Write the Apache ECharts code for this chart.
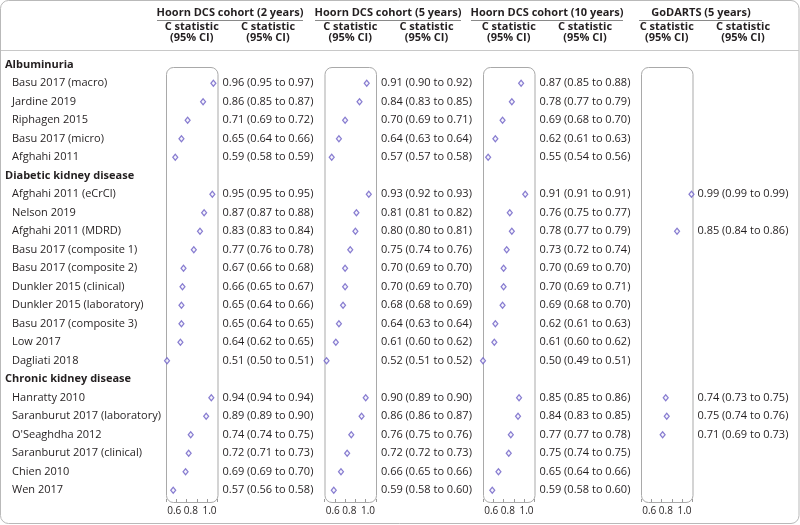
<!DOCTYPE html>
<html><head><meta charset="utf-8">
<script src="https://cdn.jsdelivr.net/npm/echarts@6/dist/echarts.min.js"></script>
<style>html,body{margin:0;padding:0;background:#fff}#c{width:800px;height:525px}</style>
</head><body><div id="c"></div>
<script>
// ---------- data ----------
const rows = ['Albuminuria','Basu 2017 (macro)','Jardine 2019','Riphagen 2015','Basu 2017 (micro)','Afghahi 2011',
  'Diabetic kidney disease','Afghahi 2011 (eCrCl)','Nelson 2019','Afghahi 2011 (MDRD)','Basu 2017 (composite 1)','Basu 2017 (composite 2)',
  'Dunkler 2015 (clinical)','Dunkler 2015 (laboratory)','Basu 2017 (composite 3)','Low 2017','Dagliati 2018',
  'Chronic kidney disease','Hanratty 2010','Saranburut 2017 (laboratory)',"O'Seaghdha 2012",'Saranburut 2017 (clinical)','Chien 2010','Wen 2017'];
const groupHeaders = ['Albuminuria','Diabetic kidney disease','Chronic kidney disease'];
const cohorts = ['Hoorn DCS cohort (2 years)','Hoorn DCS cohort (5 years)','Hoorn DCS cohort (10 years)','GoDARTS (5 years)'];
const colHeader = ['C statistic','(95% CI)'];
const xTickLabels = ['0.6','0.8','1.0'];

const est2 = [null,0.96,0.86,0.71,0.65,0.59, null,0.95,0.87,0.83,0.77,0.67,0.66,0.65,0.65,0.64,0.51, null,0.94,0.89,0.74,0.72,0.69,0.57];
const lo2  = [null,0.95,0.85,0.69,0.64,0.58, null,0.95,0.87,0.83,0.76,0.66,0.65,0.64,0.64,0.62,0.50, null,0.94,0.89,0.74,0.71,0.69,0.56];
const hi2  = [null,0.97,0.87,0.72,0.66,0.59, null,0.95,0.88,0.84,0.78,0.68,0.67,0.66,0.65,0.65,0.51, null,0.94,0.90,0.75,0.73,0.70,0.58];

const est5 = [null,0.91,0.84,0.70,0.64,0.57, null,0.93,0.81,0.80,0.75,0.70,0.70,0.68,0.64,0.61,0.52, null,0.90,0.86,0.76,0.72,0.66,0.59];
const lo5  = [null,0.90,0.83,0.69,0.63,0.57, null,0.92,0.81,0.80,0.74,0.69,0.69,0.68,0.63,0.60,0.51, null,0.89,0.86,0.75,0.72,0.65,0.58];
const hi5  = [null,0.92,0.85,0.71,0.64,0.58, null,0.93,0.82,0.81,0.76,0.70,0.70,0.69,0.64,0.62,0.52, null,0.90,0.87,0.76,0.73,0.66,0.60];

const est10 = [null,0.87,0.78,0.69,0.62,0.55, null,0.91,0.76,0.78,0.73,0.70,0.70,0.69,0.62,0.61,0.50, null,0.85,0.84,0.77,0.75,0.65,0.59];
const lo10  = [null,0.85,0.77,0.68,0.61,0.54, null,0.91,0.75,0.77,0.72,0.69,0.69,0.68,0.61,0.60,0.49, null,0.85,0.83,0.77,0.74,0.64,0.58];
const hi10  = [null,0.88,0.79,0.70,0.63,0.56, null,0.91,0.77,0.79,0.74,0.70,0.71,0.70,0.63,0.62,0.51, null,0.86,0.85,0.78,0.75,0.66,0.60];

const estG = [null,null,null,null,null,null, null,0.99,null,0.85,null,null,null,null,null,null,null, null,0.74,0.75,0.71,null,null,null];
const loG  = [null,null,null,null,null,null, null,0.99,null,0.84,null,null,null,null,null,null,null, null,0.73,0.74,0.69,null,null,null];
const hiG  = [null,null,null,null,null,null, null,0.99,null,0.86,null,null,null,null,null,null,null, null,0.75,0.76,0.73,null,null,null];

// ---------- layout / style ----------
const FONT = '"Open Sans", "Noto Sans", sans-serif';
const TXT = '#231f20';
const MARK = '#6a5cc4';
const panelLeft = [166, 324.5, 483, 641];
const panelW = 51.5;
const gridTop = 55.5, gridH = 444;
const boxTop = 67, boxBottom = 502;
const titleCx = [230, 388, 547, 701];
const underline = [[157,303],[315,461],[471,623],[639,762]];
const panels = [[est2,lo2,hi2],[est5,lo5,hi5],[est10,lo10,hi10],[estG,loG,hiG]];

const f2 = v => v.toFixed(2);
const ciText = (e,l,h) => rows.map((_,i) => e[i]==null ? '' : `${f2(e[i])} (${f2(l[i])} to ${f2(h[i])})`);

const grid = [], xAxis = [], yAxis = [], series = [], graphic = [];

graphic.push({type:'rect', silent:true, z:-10, shape:{x:0.5,y:0.5,width:798.5,height:523,r:8}, style:{fill:'#fff',stroke:'#b9b9b9',lineWidth:1}});
graphic.push({type:'line', silent:true, shape:{x1:1,y1:50.5,x2:799,y2:50.5}, style:{stroke:'#c8c8c8',lineWidth:1}});

// label nudges so the three tick labels sit tightly under each panel, as in the reference
const tickRich = {
  a:{padding:[0,4,0,0], fontFamily:FONT, fontSize:10, color:TXT},
  m:{padding:[0,12,0,0], fontFamily:FONT, fontSize:10, color:TXT},
  n:{padding:[0,16,0,0], fontFamily:FONT, fontSize:10, color:TXT}
};

panels.forEach((p, k) => {
  const L = panelLeft[k];
  grid.push({left:L, top:gridTop, width:panelW, height:gridH, containLabel:false});
  xAxis.push({
    type:'value', gridIndex:k, min:0.5, max:1.0, interval:0.1, offset:boxBottom-(gridTop+gridH),
    axisLine:{show:false}, splitLine:{show:false},
    axisTick:{show:true, inside:true, length:3, lineStyle:{color:'#9a9a9a'}},
    axisLabel:{
      show:true, margin:4, color:TXT, fontFamily:FONT, fontSize:10, showMinLabel:true, showMaxLabel:true,
      formatter: v => { const s = (Math.round(v*10)/10).toFixed(1); if (!xTickLabels.includes(s)) return ''; return s==='0.8' ? `{m|${s}}` : s==='1.0' ? `{n|${s}}` : `{a|${s}}`; },
      rich:tickRich
    }
  });
  yAxis.push({
    type:'category', gridIndex:k, inverse:true, data:rows, position:'left',
    axisLine:{show:false}, axisTick:{show:false}, splitLine:{show:false},
    axisLabel:{
      show:k===0, align:'left', margin:L-5, fontFamily:FONT, fontSize:11, color:TXT, interval:0,
      formatter: v => groupHeaders.includes(v) ? `{h|${v}}` : `{r|${v}}`,
      rich:{h:{fontWeight:'bold', fontFamily:FONT, fontSize:11, color:TXT}, r:{padding:[0,0,0,7], fontFamily:FONT, fontSize:11, color:TXT}}
    }
  });
  yAxis.push({
    type:'category', gridIndex:k, inverse:true, data:ciText(p[0],p[1],p[2]), position:'right',
    axisLine:{show:false}, axisTick:{show:false}, splitLine:{show:false},
    axisLabel:{show:true, align:'left', margin:5, fontFamily:FONT, fontSize:11, color:TXT, interval:0}
  });
  series.push({
    type:'scatter', xAxisIndex:k, yAxisIndex:2*k, symbol:'diamond', symbolSize:[5,6], z:5,
    itemStyle:{color:'#f4f2fc', borderColor:MARK, borderWidth:1.2},
    data: rows.map((_,i) => p[0][i]==null ? null : [p[0][i], i]).filter(d => d)
  });
  graphic.push({type:'rect', silent:true, z:-5, shape:{x:L+0.5, y:boxTop+0.5, width:panelW, height:boxBottom-boxTop, r:7}, style:{fill:'none', stroke:'#a9a9a9', lineWidth:1}});
  graphic.push({type:'text', silent:true, x:titleCx[k], y:12.5, style:{text:cohorts[k], font:`bold 11px ${FONT}`, fill:TXT, align:'center', verticalAlign:'middle'}});
  graphic.push({type:'line', silent:true, shape:{x1:underline[k][0], y1:20.5, x2:underline[k][1], y2:20.5}, style:{stroke:'#8a8a8a', lineWidth:1}});
  [L+panelW/2, L+102].forEach(cx => {
    graphic.push({type:'text', silent:true, x:cx, y:26.5, style:{text:colHeader[0], font:`bold 11px ${FONT}`, fill:TXT, align:'center', verticalAlign:'middle'}});
    graphic.push({type:'text', silent:true, x:cx, y:38, style:{text:colHeader[1], font:`bold 11px ${FONT}`, fill:TXT, align:'center', verticalAlign:'middle'}});
  });
});

const chart = echarts.init(document.getElementById('c'), null, {renderer:'canvas'});
chart.setOption({animation:false, backgroundColor:'#fff', grid, xAxis, yAxis, series, graphic});
</script></body></html>
